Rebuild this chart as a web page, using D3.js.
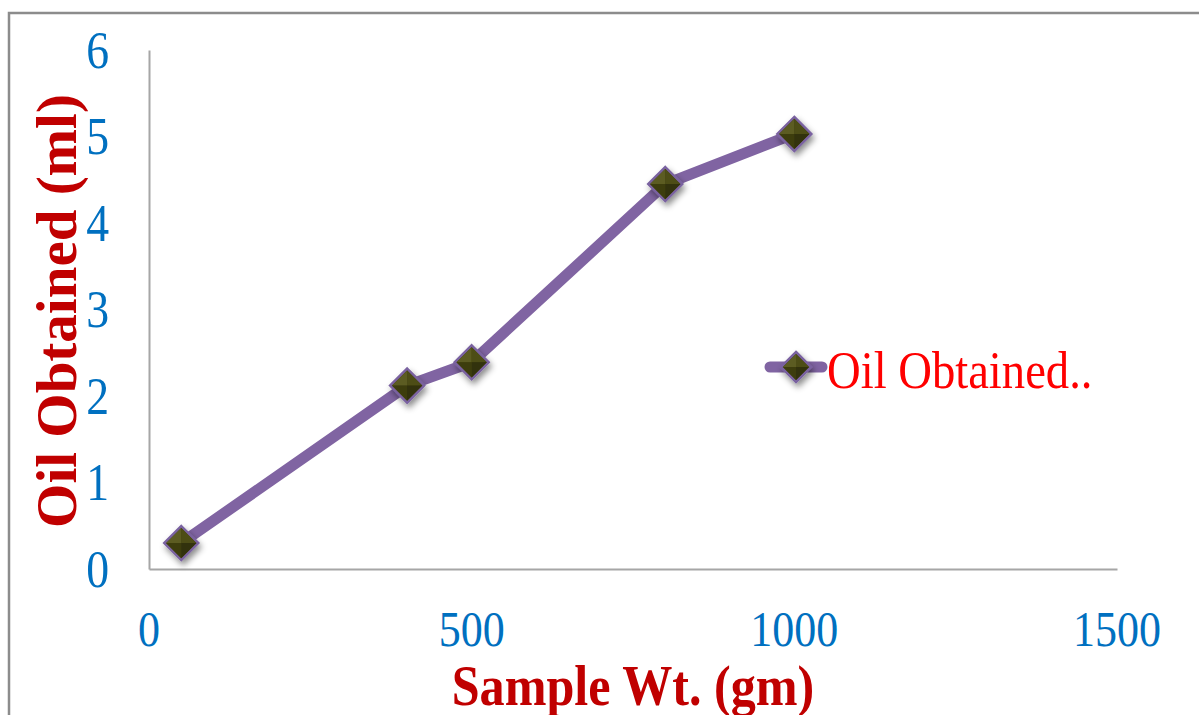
<!DOCTYPE html>
<html>
<head>
<meta charset="utf-8">
<script src="https://cdn.jsdelivr.net/npm/d3@7"></script>
<style>
    html, body { margin: 0; padding: 0; background: #fff; }
    svg { display: block; }
    text { font-family: "Liberation Serif", "Times New Roman", serif; }
</style>
</head>
<body>
<svg id="chart" width="1199" height="715"></svg>
<script>
// Oil obtained vs sample weight — single series scatter with lines

const sampleWt = [50, 400, 500, 800, 1000];
const oilObtained = [0.3, 2.12, 2.39, 4.45, 5.03];
const xTicks = [0, 500, 1000, 1500];
const yTicks = [0, 1, 2, 3, 4, 5, 6];
const seriesName = 'Oil Obtained..';

const COLORS = {
    line: '#8064A2',
    axis: '#A6A6A6',
    frame: '#8C8C8C',
    tick: '#0070C0',
    title: '#C00000',
    legend: '#FF0000',
};

const plot = { left: 149, right: 1117, top: 50, bottom: 569 };
const squash = 0.88;   // horizontal text in the original is a bit narrow

const svg = d3.select('#chart');

const defs = svg.append('defs');
const shadow = defs.append('filter').attr('id', 'shadow')
    .attr('x', '-50%').attr('y', '-50%').attr('width', '200%').attr('height', '200%');
shadow.append('feDropShadow')
    .attr('dx', 2).attr('dy', 4).attr('stdDeviation', 3)
    .attr('flood-color', '#000').attr('flood-opacity', 0.45);

// outer chart frame (runs off the right and bottom edges)
svg.append('rect')
    .attr('x', 9).attr('y', 13)
    .attr('width', 1400).attr('height', 900)
    .attr('fill', 'none')
    .attr('stroke', COLORS.frame)
    .attr('stroke-width', 2.5);

const x = d3.scaleLinear().domain([0, 1500]).range([plot.left, plot.right]);
const y = d3.scaleLinear().domain([0, 6]).range([plot.bottom, plot.top]);

// helper: text at a point, squeezed sideways unless rotated
function label(g, px, py, str, opts) {
    const tf = opts.rotate
        ? `translate(${px},${py}) rotate(-90)`
        : `translate(${px},${py}) scale(${squash},1)`;
    return g.append('text')
        .attr('transform', tf)
        .attr('text-anchor', opts.anchor || 'middle')
        .attr('dominant-baseline', 'central')
        .attr('font-size', opts.size)
        .attr('font-weight', opts.bold ? 'bold' : 'normal')
        .attr('fill', opts.color)
        .text(str);
}

// axes
const xAxis = d3.axisBottom(x).tickValues(xTicks).tickSize(0).tickPadding(0);
const yAxis = d3.axisLeft(y).tickValues(yTicks).tickSize(0).tickPadding(0);

const gx = svg.append('g').attr('transform', `translate(0,${plot.bottom})`).call(xAxis);
gx.select('.domain').attr('stroke', COLORS.axis).attr('stroke-width', 2);
gx.selectAll('.tick text').remove();

const gy = svg.append('g').attr('transform', `translate(${plot.left},0)`).call(yAxis);
gy.select('.domain').attr('stroke', COLORS.axis).attr('stroke-width', 2);
gy.selectAll('.tick text').remove();

const tickLayer = svg.append('g');
xTicks.forEach(v => label(tickLayer, x(v), 629, v, { size: 50, color: COLORS.tick }));
yTicks.forEach(v => label(tickLayer, 109, y(v), v, { size: 52, color: COLORS.tick, anchor: 'end' }));

// axis titles
label(svg, 633, 686, 'Sample Wt. (gm)', { size: 57, bold: true, color: COLORS.title });
label(svg, 56, 311, 'Oil Obtained (ml)', { size: 57, bold: true, color: COLORS.title, rotate: true });

// series line
const pts = sampleWt.map((v, i) => [x(v), y(oilObtained[i])]);
svg.append('path')
    .attr('d', d3.line()(pts))
    .attr('fill', 'none')
    .attr('stroke', COLORS.line)
    .attr('stroke-width', 11)
    .attr('stroke-linejoin', 'round')
    .attr('stroke-linecap', 'round');

// bevelled diamond marker
function diamond(g, cx, cy, r) {
    const m = g.append('g').attr('transform', `translate(${cx},${cy})`).attr('filter', 'url(#shadow)');
    m.append('path')
        .attr('d', `M0,${-r}L${r},0L0,${r}L${-r},0Z`)
        .attr('fill', '#44440F')
        .attr('stroke', '#7A62A0')
        .attr('stroke-width', 2.5);
    const k = r - 2;
    const faces = [
        [`M0,0L0,${-k}L${-k},0Z`, '#5C5C22'],
        [`M0,0L0,${-k}L${k},0Z`, '#4E4E17'],
        [`M0,0L${-k},0L0,${k}Z`, '#3E3E0D'],
        [`M0,0L${k},0L0,${k}Z`, '#313108'],
    ];
    faces.forEach(([d, c]) => m.append('path').attr('d', d).attr('fill', c));
}

const markers = svg.append('g');
pts.forEach(p => diamond(markers, p[0], p[1], 17));

// legend
const lg = svg.append('g');
lg.append('line')
    .attr('x1', 770).attr('x2', 822)
    .attr('y1', 367).attr('y2', 367)
    .attr('stroke', COLORS.line)
    .attr('stroke-width', 11)
    .attr('stroke-linecap', 'round');
diamond(lg, 796, 367, 15);
label(lg, 827, 370, seriesName, { size: 53, color: COLORS.legend, anchor: 'start' });
</script>
</body>
</html>
